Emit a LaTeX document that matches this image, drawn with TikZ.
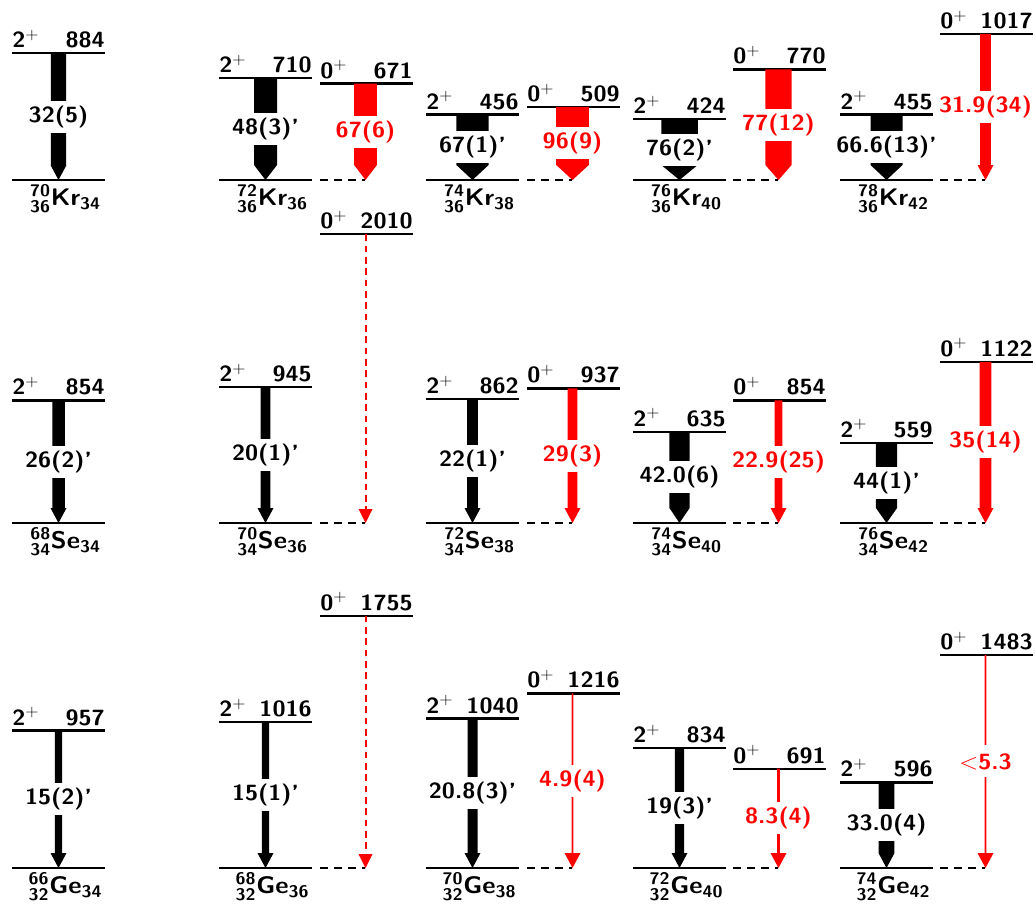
\documentclass[tikz,border=0pt]{standalone}
\usepackage{fontspec}
\usepackage{amsmath}
\usepackage{graphicx}
\definecolor{rd}{RGB}{255,0,0}
\newcommand\lfont{\fontsize{16.5}{19}\selectfont\sffamily\bfseries}
\newcommand\nfont{\fontsize{18}{21}\selectfont\sffamily\bfseries}
\newcommand\sx[1]{\scalebox{1.08}[1]{#1}}
\tikzset{
  lev/.style={line width=1.8pt},
  gext/.style={line width=1.8pt, dash pattern=on 6pt off 4.5pt},
  lab/.style={fill=white, inner xsep=1pt, inner ysep=0pt, minimum height=24pt},
  spin/.style={anchor=base west, inner sep=0pt},
  ener/.style={anchor=base east, inner sep=0pt},
  nuc/.style={anchor=base, inner sep=0pt, font=\nfont},
  dtr/.style={rd, line width=1.5pt, dash pattern=on 5pt off 3.5pt},
}
% level: name, x-left, y, spin, energy
\newcommand\levl[5]{%
  \draw[lev] (#2,#3) -- ++(93,0);
  \node[spin] (#1s) at (#2,#3-5.5) {\sx{#4$^+$}};
  \node[ener] (#1e) at (#2+93,#3-5.5) {\sx{#5}};
}
% transition: name, x, ytop, yground, width, colour, label
\newcommand\gtrans[7]{%
  \pgfmathsetmacro\hw{#5/2}
  \pgfmathsetmacro\HW{max(#5,16)/2}
  \pgfmathsetmacro\ym{(#3+#4)/2}
  \fill[#6] (#2-\hw,#3) -- (#2+\hw,#3) -- (#2+\hw,#4-15) -- (#2+\HW,#4-15)
     -- (#2,#4) -- (#2-\HW,#4-15) -- (#2-\hw,#4-15) -- cycle;
  \node[lab, text=#6] (#1) at (#2,\ym) {\sx{#7}};
}
% dashed transition: name, x, ytop, yground
\newcommand\dtrans[4]{%
  \draw[dtr] (#2,#3) -- (#2,#4-14);
  \fill[rd] (#2-7,#4-14) -- (#2+7,#4-14) -- (#2,#4) -- cycle;
  \coordinate (#1) at (#2,#4);
}
% ground: name, x-left, y, label
\newcommand\gnd[4]{%
  \draw[lev] (#2,#3) -- ++(93,0);
  \node[nuc] (#1) at (#2+53.5,#3+25) {\sx{#4}};
}
\newcommand\nucl[4]{${}^{\text{#1}}_{\text{#2}}$#3$_{\text{#4}}$}
\begin{document}
\begin{tikzpicture}[x=0.75pt,y=-0.75pt,font=\lfont]
\useasboundingbox (0,0) rectangle (1036,907);
% ---------------- Kr row (ground 180)
\levl{k70a}{12}{53.0}{2}{884}
\gtrans{k70t}{58.5}{53.0}{180}{15.4}{black}{32(5)}
\gnd{k70g}{12}{180}{\nucl{70}{36}{Kr}{34}}

\levl{k72a}{219}{78.0}{2}{710}
\gtrans{k72t}{265.5}{78.0}{180}{23.0}{black}{48(3)'}
\levl{k72b}{320}{83.6}{0}{671}
\gtrans{k72r}{365.5}{83.6}{180}{22.8}{rd}{67(6)}
\gnd{k72g}{219}{180}{\nucl{72}{36}{Kr}{36}}
\draw[gext] (320,180) -- (364.5,180);

\levl{k74a}{426}{114.5}{2}{456}
\gtrans{k74t}{472.5}{114.5}{180}{32.2}{black}{67(1)'}
\levl{k74b}{527}{106.9}{0}{509}
\gtrans{k74r}{572.5}{106.9}{180}{32.6}{rd}{96(9)}
\gnd{k74g}{426}{180}{\nucl{74}{36}{Kr}{38}}
\draw[gext] (527,180) -- (571.5,180);

\levl{k76a}{633}{119.1}{2}{424}
\gtrans{k76t}{679.5}{119.1}{180}{36.5}{black}{76(2)'}
\levl{k76b}{733}{69.4}{0}{770}
\gtrans{k76r}{778.5}{69.4}{180}{26.2}{rd}{77(12)}
\gnd{k76g}{633}{180}{\nucl{76}{36}{Kr}{40}}
\draw[gext] (733,180) -- (777.5,180);

\levl{k78a}{840}{114.6}{2}{455}
\gtrans{k78t}{886.5}{114.6}{180}{32.0}{black}{66.6(13)'}
\levl{k78b}{940}{33.9}{0}{1017}
\gtrans{k78r}{985.5}{33.9}{180}{10.8}{rd}{31.9(34)}
\gnd{k78g}{840}{180}{\nucl{78}{36}{Kr}{42}}
\draw[gext] (940,180) -- (984.5,180);

% ---------------- Se row (ground 523)
\levl{s68a}{12}{400.3}{2}{854}
\gtrans{s68t}{58.5}{400.3}{523}{12.5}{black}{26(2)'}
\gnd{s68g}{12}{523}{\nucl{68}{34}{Se}{34}}

\levl{s70a}{219}{387.2}{2}{945}
\gtrans{s70t}{265.5}{387.2}{523}{9.6}{black}{20(1)'}
\levl{s70b}{320}{234.2}{0}{2010}
\dtrans{s70r}{365.5}{234.2}{523}
\gnd{s70g}{219}{523}{\nucl{70}{34}{Se}{36}}
\draw[gext] (320,523) -- (364.5,523);

\levl{s72a}{426}{399.1}{2}{862}
\gtrans{s72t}{472.5}{399.1}{523}{10.6}{black}{22(1)'}
\levl{s72b}{527}{388.4}{0}{937}
\gtrans{s72r}{572.5}{388.4}{523}{9.9}{rd}{29(3)}
\gnd{s72g}{426}{523}{\nucl{72}{34}{Se}{38}}
\draw[gext] (527,523) -- (571.5,523);

\levl{s74a}{633}{431.7}{2}{635}
\gtrans{s74t}{679.5}{431.7}{523}{20.2}{black}{42.0(6)}
\levl{s74b}{733}{400.3}{0}{854}
\gtrans{s74r}{778.5}{400.3}{523}{7.8}{rd}{22.9(25)}
\gnd{s74g}{633}{523}{\nucl{74}{34}{Se}{40}}
\draw[gext] (733,523) -- (777.5,523);

\levl{s76a}{840}{442.7}{2}{559}
\gtrans{s76t}{886.5}{442.7}{523}{21.1}{black}{44(1)'}
\levl{s76b}{940}{361.8}{0}{1122}
\gtrans{s76r}{985.5}{361.8}{523}{11.9}{rd}{35(14)}
\gnd{s76g}{840}{523}{\nucl{76}{34}{Se}{42}}
\draw[gext] (940,523) -- (984.5,523);

% ---------------- Ge row (ground 868)
\levl{g66a}{12}{730.5}{2}{957}
\gtrans{g66t}{58.5}{730.5}{868}{7.2}{black}{15(2)'}
\gnd{g66g}{12}{868}{\nucl{66}{32}{Ge}{34}}

\levl{g68a}{219}{722.0}{2}{1016}
\gtrans{g68t}{265.5}{722.0}{868}{7.2}{black}{15(1)'}
\levl{g68b}{320}{615.8}{0}{1755}
\dtrans{g68r}{365.5}{615.8}{868}
\gnd{g68g}{219}{868}{\nucl{68}{32}{Ge}{36}}
\draw[gext] (320,868) -- (364.5,868);

\levl{g70a}{426}{718.6}{2}{1040}
\gtrans{g70t}{472.5}{718.6}{868}{10.0}{black}{20.8(3)'}
\levl{g70b}{527}{693.3}{0}{1216}
\gtrans{g70r}{572.5}{693.3}{868}{1.7}{rd}{4.9(4)}
\gnd{g70g}{426}{868}{\nucl{70}{32}{Ge}{38}}
\draw[gext] (527,868) -- (571.5,868);

\levl{g72a}{633}{748.2}{2}{834}
\gtrans{g72t}{679.5}{748.2}{868}{9.1}{black}{19(3)'}
\levl{g72b}{733}{768.7}{0}{691}
\gtrans{g72r}{778.5}{768.7}{868}{2.8}{rd}{8.3(4)}
\gnd{g72g}{633}{868}{\nucl{72}{32}{Ge}{40}}
\draw[gext] (733,868) -- (777.5,868);

\levl{g74a}{840}{782.4}{2}{596}
\gtrans{g74t}{886.5}{782.4}{868}{15.8}{black}{33.0(4)}
\levl{g74b}{940}{654.9}{0}{1483}
\gtrans{g74r}{985.5}{654.9}{868}{1.8}{rd}{$<$5.3}
\gnd{g74g}{840}{868}{\nucl{74}{32}{Ge}{42}}
\draw[gext] (940,868) -- (984.5,868);
\end{tikzpicture}
\end{document}
